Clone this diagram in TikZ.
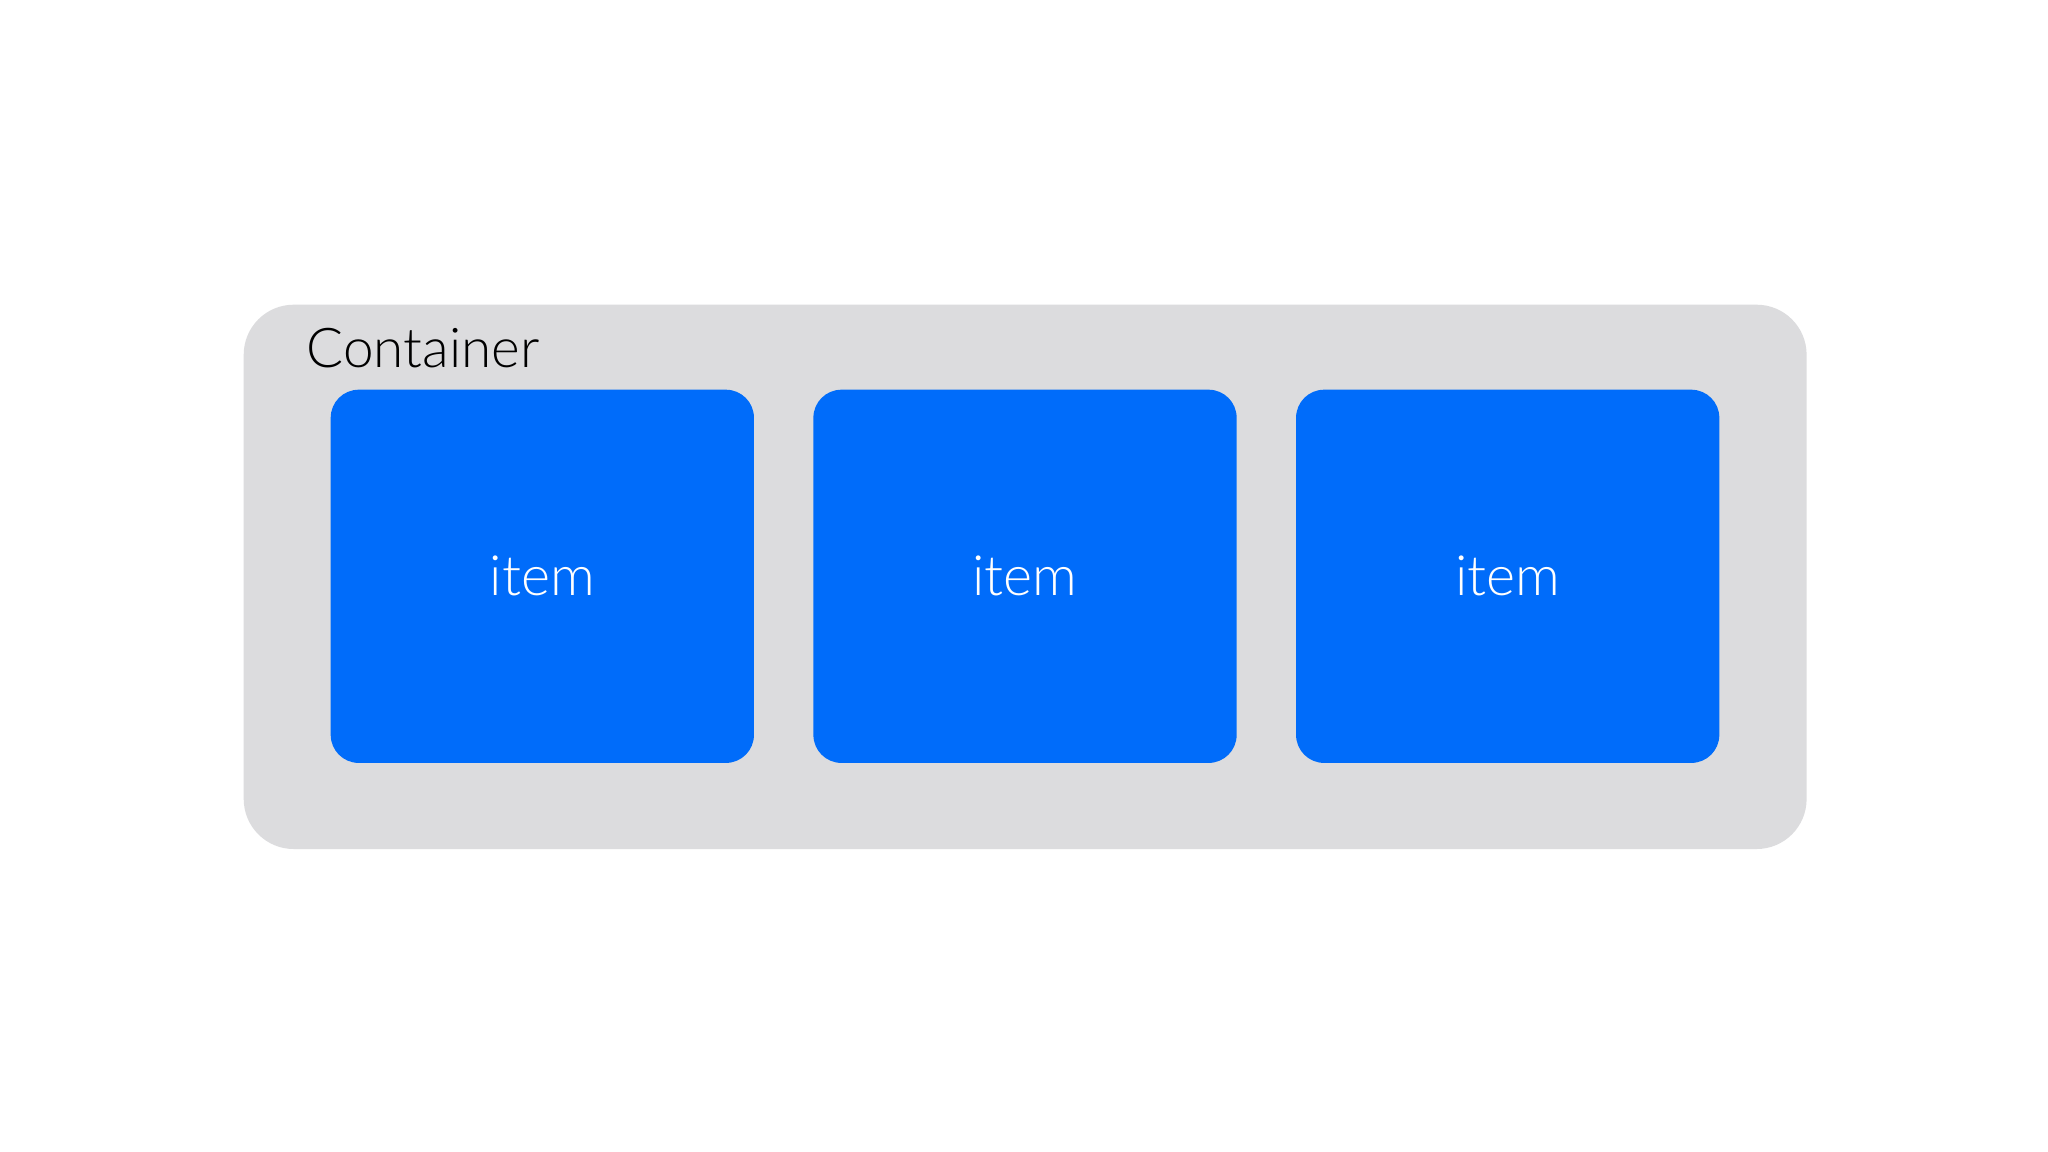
\documentclass[tikz,border=0pt]{standalone}
\usepackage{fontspec}
\setmainfont{Lato}[UprightFont=* Light]
\usetikzlibrary{positioning}
\definecolor{itemblue}{RGB}{0,108,250}
\definecolor{boxgray}{RGB}{220,220,222}
\tikzset{
  containerbox/.style={fill=boxgray, rounded corners=5mm,
    minimum width=156.2mm, minimum height=54.4mm, inner sep=0pt},
  itembox/.style={fill=itemblue, rounded corners=2.8mm, text=white,
    minimum width=42.3mm, minimum height=37.3mm, inner sep=0pt,
    font=\fontsize{15.8}{18}\selectfont},
  label/.style={font=\fontsize{15.6}{18}\selectfont, anchor=base west, inner sep=0pt}
}

\begin{document}
\begin{tikzpicture}[x=0.01cm, y=-0.01cm]
  \useasboundingbox[fill=white] (0,0) rectangle (2048,1152);
  \node[containerbox, anchor=north west] (cont) at (243,304) {};
  \node[label] (contlabel) at (306,368) {Container};
  \node[itembox, anchor=north west] (item1) at (330,389) {item};
  \node[itembox, right=5.8mm of item1] (item2) {item};
  \node[itembox, right=5.8mm of item2] (item3) {item};
\end{tikzpicture}
\end{document}
